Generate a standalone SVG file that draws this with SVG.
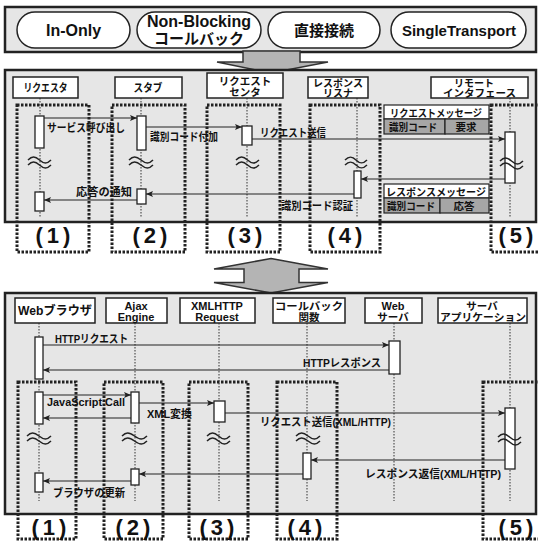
<svg xmlns="http://www.w3.org/2000/svg" width="538" height="543" viewBox="0 0 538 543">
<defs>
<style>
.panel{fill:#e6e6e6;stroke:#222;stroke-width:2.5}
.pill{fill:#fff;stroke:#222;stroke-width:1.5}
.hbox{fill:#fff;stroke:#222;stroke-width:1.5}
.big{fill:#b4b4b4;stroke:#333;stroke-width:1.5}
.life{stroke:#333;stroke-width:1;stroke-dasharray:1.5,1.5;fill:none}
.grp{fill:none;stroke:#222;stroke-width:3;stroke-dasharray:2.5,1.5}
.act{fill:#fff;stroke:#222;stroke-width:1.3}
.msg{stroke:#222;stroke-width:1.2;fill:none;marker-end:url(#ah)}
.sq{stroke:#222;stroke-width:1.5;fill:none}
.cell{fill:#a6a6a6;stroke:#222;stroke-width:1.2}
.cellw{fill:#fff;stroke:#222;stroke-width:1.2}
text{font-family:"Liberation Sans","Noto Sans CJK JP",sans-serif;font-weight:bold;fill:#111}
.pt{font-size:16px;text-anchor:middle}
.ht{font-size:11px;text-anchor:middle}
.h2{font-size:10.5px;text-anchor:middle}
.mt{font-size:11px}
.gl{font-size:22px;text-anchor:middle;letter-spacing:4px}
</style>
<marker id="ah" markerWidth="8" markerHeight="7" refX="7" refY="3.5" orient="auto" markerUnits="userSpaceOnUse">
<path d="M0,0.5 L7,3.5 L0,6.5 L1.5,3.5 Z" fill="#222"/>
</marker>
</defs>

<!-- top panel -->
<g id="top-panel">
<rect class="panel" x="5" y="7" width="531" height="45"/>
</g>
<g id="pill-inonly"><rect class="pill" x="17" y="12" width="113" height="36" rx="18"/><text class="pt" x="73.5" y="35.5">In-Only</text></g>
<g id="pill-nonblocking"><rect class="pill" x="137" y="12" width="124" height="36" rx="18"/><text class="pt" x="199" y="27">Non-Blocking</text><text class="pt" x="199" y="43.5" style="font-size:15px">コールバック</text></g>
<g id="pill-direct"><rect class="pill" x="268" y="12" width="112" height="36" rx="18"/><text class="pt" x="324" y="36" style="font-size:15px">直接接続</text></g>
<g id="pill-single"><rect class="pill" x="391" y="12" width="135" height="36" rx="18"/><text class="pt" x="459" y="36" style="font-size:15px">SingleTransport</text></g>

<g id="arrow-down">
<polygon class="big" points="243,51 300,51 300,62 328,62 271,73 217,62 243,62"/>
</g>

<!-- panel 2 -->
<g id="panel2"><rect class="panel" x="5" y="70" width="531" height="152"/></g>

<g id="p2-lifelines">
<line class="life" x1="40" y1="98" x2="40" y2="217"/>
<line class="life" x1="141" y1="98" x2="141" y2="217"/>
<line class="life" x1="247" y1="98" x2="247" y2="217"/>
<line class="life" x1="357" y1="98" x2="357" y2="217"/>
<line class="life" x1="510" y1="98" x2="510" y2="217"/>
</g>

<g id="p2-requester"><rect class="hbox" x="13" y="77" width="65" height="21"/><text class="ht" x="45.5" y="92" textLength="44" lengthAdjust="spacingAndGlyphs">リクエスタ</text></g>
<g id="p2-stub"><rect class="hbox" x="115" y="77" width="67" height="21"/><text class="ht" x="148" y="92" textLength="29" lengthAdjust="spacingAndGlyphs">スタブ</text></g>
<g id="p2-center"><rect class="hbox" x="207" y="73" width="76" height="25"/><text class="h2" x="245" y="84.5">リクエスト</text><text class="h2" x="245" y="95.5">センタ</text></g>
<g id="p2-listener"><rect class="hbox" x="308" y="77" width="60" height="21"/><text class="h2" x="338" y="86.5" style="font-size:10px">レスポンス</text><text class="h2" x="338" y="96.5" style="font-size:10px">リスナ</text></g>
<g id="p2-remote"><rect class="hbox" x="431" y="77" width="97" height="21"/><text class="h2" x="474" y="86.5" style="font-size:10px">リモート</text><text class="h2" x="479.5" y="96.5" style="font-size:10px" textLength="73" lengthAdjust="spacingAndGlyphs">インタフェース</text></g>

<g id="p2-groups">
<rect class="grp" x="17" y="105" width="72" height="147"/>
<rect class="grp" x="112" y="105" width="73" height="147"/>
<rect class="grp" x="207" y="105" width="73" height="147"/>
<rect class="grp" x="310" y="105" width="70" height="147"/>
<rect class="grp" x="491" y="105" width="60" height="147"/>
<text class="gl" x="55" y="243">(1)</text>
<text class="gl" x="152" y="243">(2)</text>
<text class="gl" x="247" y="243">(3)</text>
<text class="gl" x="347" y="243">(4)</text>
<text class="gl" x="518" y="243">(5)</text>
</g>

<g id="p2-activations">
<rect class="act" x="35" y="116" width="9" height="32"/>
<rect class="act" x="137" y="116" width="9" height="34"/>
<rect class="act" x="242" y="126" width="10" height="19"/>
<rect class="act" x="505" y="132" width="10" height="51"/>
<rect class="act" x="354" y="171" width="7" height="27"/>
<rect class="act" x="137" y="189" width="9" height="15"/>
<rect class="act" x="35" y="192" width="9" height="19"/>
</g>

<g id="p2-squiggles">
<path class="sq" d="M28,160 c4,-4 7,-4 11.5,0 s7.5,4 11.5,0 M28,165 c4,-4 7,-4 11.5,0 s7.5,4 11.5,0"/>
<path class="sq" d="M129,160 c4,-4 7,-4 12,0 s8,4 12,0 M129,165 c4,-4 7,-4 12,0 s8,4 12,0"/>
<path class="sq" d="M236,160 c4,-4 7,-4 11.5,0 s7.5,4 11.5,0 M236,165 c4,-4 7,-4 11.5,0 s7.5,4 11.5,0"/>
<path class="sq" d="M345,160 c4,-4 7,-4 11,0 s7,4 11,0 M345,165 c4,-4 7,-4 11,0 s7,4 11,0"/>
<path class="sq" d="M500,161 c4,-4 7,-4 11.5,0 s7.5,4 11.5,0 M500,166 c4,-4 7,-4 11.5,0 s7.5,4 11.5,0"/>
</g>

<g id="p2-messages">
<rect class="cellw" x="384" y="105" width="105" height="14"/>
<rect class="cell" x="384" y="119" width="61" height="15"/>
<rect class="cell" x="445" y="119" width="44" height="15"/>
<text class="ht" x="436" y="116.5" style="font-size:10.5px" textLength="92" lengthAdjust="spacingAndGlyphs">リクエストメッセージ</text>
<text class="ht" x="413" y="131" style="font-size:10.5px" textLength="48" lengthAdjust="spacingAndGlyphs">識別コード</text>
<text class="ht" x="466" y="131" style="font-size:10.5px">要求</text>
<rect class="cellw" x="384" y="184" width="105" height="14"/>
<rect class="cell" x="384" y="198" width="56" height="15"/>
<rect class="cell" x="440" y="198" width="49" height="15"/>
<text class="ht" x="436" y="195.5" style="font-size:10.5px" textLength="100" lengthAdjust="spacingAndGlyphs">レスポンスメッセージ</text>
<text class="ht" x="411" y="210" style="font-size:10.5px" textLength="48" lengthAdjust="spacingAndGlyphs">識別コード</text>
<text class="ht" x="464" y="210" style="font-size:10.5px">応答</text>
</g>

<g id="p2-connectors">
<path class="msg" d="M44,118 H137"/>
<path class="msg" d="M146,127 H242"/>
<path class="msg" d="M252,139 H505"/>
<path class="msg" d="M505,179 H361"/>
<path class="msg" d="M354,194 H146"/>
<path class="msg" d="M137,200 H44"/>
<text class="mt" x="47" y="132" textLength="78" lengthAdjust="spacingAndGlyphs">サービス呼び出し</text>
<text class="mt" x="150" y="141" textLength="68" lengthAdjust="spacingAndGlyphs">識別コード付加</text>
<text class="mt" x="260" y="137" textLength="66" lengthAdjust="spacingAndGlyphs">リクエスト送信</text>
<text class="mt" x="281" y="210" textLength="72" lengthAdjust="spacingAndGlyphs">識別コード認証</text>
<text class="mt" x="76" y="196" textLength="56" lengthAdjust="spacingAndGlyphs">応答の通知</text>
</g>

<g id="arrow-double">
<polygon class="big" points="271,258.5 328,269 299,269 299,282.5 328,282.5 271,293 214,282.5 244,282.5 244,269 214,269"/>
</g>

<!-- panel 3 -->
<g id="panel3"><rect class="panel" x="5" y="293" width="531" height="221"/></g>

<g id="p3-lifelines">
<line class="life" x1="39" y1="323" x2="39" y2="501"/>
<line class="life" x1="135" y1="323" x2="135" y2="501"/>
<line class="life" x1="219" y1="323" x2="219" y2="501"/>
<line class="life" x1="307" y1="323" x2="307" y2="501"/>
<line class="life" x1="394" y1="323" x2="394" y2="501"/>
<line class="life" x1="510" y1="323" x2="510" y2="501"/>
</g>

<g id="p3-browser"><rect class="hbox" x="15" y="298" width="80" height="25"/><text class="ht" x="55" y="315" style="font-size:12.5px" textLength="74" lengthAdjust="spacingAndGlyphs">Webブラウザ</text></g>
<g id="p3-ajax"><rect class="hbox" x="106" y="298" width="61" height="25"/><text class="h2" x="136" y="309.5" style="font-size:11px">Ajax</text><text class="h2" x="136" y="321" style="font-size:11px">Engine</text></g>
<g id="p3-xhr"><rect class="hbox" x="180" y="298" width="75" height="25"/><text class="h2" x="217" y="309.5" style="font-size:11px">XMLHTTP</text><text class="h2" x="217" y="321" style="font-size:11px">Request</text></g>
<g id="p3-callback"><rect class="hbox" x="273" y="298" width="72" height="25"/><text class="h2" x="309" y="309.5" textLength="68" lengthAdjust="spacingAndGlyphs">コールバック</text><text class="h2" x="309" y="321">関数</text></g>
<g id="p3-webserver"><rect class="hbox" x="365" y="298" width="57" height="25"/><text class="h2" x="393" y="309.5" style="font-size:11px">Web</text><text class="h2" x="393" y="321">サーバ</text></g>
<g id="p3-serverapp"><rect class="hbox" x="438" y="298" width="89" height="25"/><text class="h2" x="482" y="309.5">サーバ</text><text class="h2" x="483" y="321" textLength="86" lengthAdjust="spacingAndGlyphs">アプリケーション</text></g>

<g id="p3-groups">
<rect class="grp" x="18" y="382" width="58" height="157"/>
<rect class="grp" x="104" y="382" width="59" height="157"/>
<rect class="grp" x="189" y="382" width="59" height="157"/>
<rect class="grp" x="277" y="382" width="60" height="157"/>
<rect class="grp" x="483" y="382" width="68" height="157"/>
<text class="gl" x="51" y="535">(1)</text>
<text class="gl" x="135" y="535">(2)</text>
<text class="gl" x="219" y="535">(3)</text>
<text class="gl" x="307" y="535">(4)</text>
<text class="gl" x="518" y="535">(5)</text>
</g>

<g id="p3-activations">
<rect class="act" x="35" y="337" width="8" height="42"/>
<rect class="act" x="389" y="341" width="11" height="33"/>
<rect class="act" x="35" y="392" width="8" height="32"/>
<rect class="act" x="131" y="392" width="8" height="31"/>
<rect class="act" x="214" y="401" width="11" height="21"/>
<rect class="act" x="505" y="408" width="10" height="61"/>
<rect class="act" x="303" y="453" width="8" height="26"/>
<rect class="act" x="131" y="469" width="8" height="16"/>
<rect class="act" x="35" y="473" width="8" height="19"/>
</g>

<g id="p3-squiggles">
<path class="sq" d="M27,436 c4,-4 7,-4 12,0 s8,4 12,0 M27,441 c4,-4 7,-4 12,0 s8,4 12,0"/>
<path class="sq" d="M122,436 c4,-4 7,-4 12.5,0 s8.5,4 12.5,0 M122,441 c4,-4 7,-4 12.5,0 s8.5,4 12.5,0"/>
<path class="sq" d="M207,436 c4,-4 7,-4 11.5,0 s7.5,4 11.5,0 M207,441 c4,-4 7,-4 11.5,0 s7.5,4 11.5,0"/>
<path class="sq" d="M296,436 c4,-4 7,-4 12,0 s8,4 12,0 M296,441 c4,-4 7,-4 12,0 s8,4 12,0"/>
<path class="sq" d="M498,437 c4,-4 7,-4 11.5,0 s7.5,4 11.5,0 M498,442 c4,-4 7,-4 11.5,0 s7.5,4 11.5,0"/>
</g>

<g id="p3-connectors">
<path class="msg" d="M43,345 H389"/>
<path class="msg" d="M389,370 H43"/>
<path class="msg" d="M43,395 H131"/>
<path class="msg" d="M131,418 H43"/>
<path class="msg" d="M139,403 H214"/>
<path class="msg" d="M225,413 H505"/>
<path class="msg" d="M505,460 H311"/>
<path class="msg" d="M303,474 H139"/>
<path class="msg" d="M131,481 H43"/>
<text class="mt" x="55" y="343" textLength="73" lengthAdjust="spacingAndGlyphs">HTTPリクエスト</text>
<text class="mt" x="303" y="367" textLength="78" lengthAdjust="spacingAndGlyphs">HTTPレスポンス</text>
<text class="mt" x="47" y="406" textLength="78" lengthAdjust="spacingAndGlyphs">JavaScript Call</text>
<text class="mt" x="147" y="418" textLength="45" lengthAdjust="spacingAndGlyphs">XML変換</text>
<text class="mt" x="260" y="426" textLength="131" lengthAdjust="spacingAndGlyphs">リクエスト送信(XML/HTTP)</text>
<text class="mt" x="365" y="478" textLength="136" lengthAdjust="spacingAndGlyphs">レスポンス返信(XML/HTTP)</text>
<text class="mt" x="53" y="497" textLength="72" lengthAdjust="spacingAndGlyphs">ブラウザの更新</text>
</g>
</svg>
